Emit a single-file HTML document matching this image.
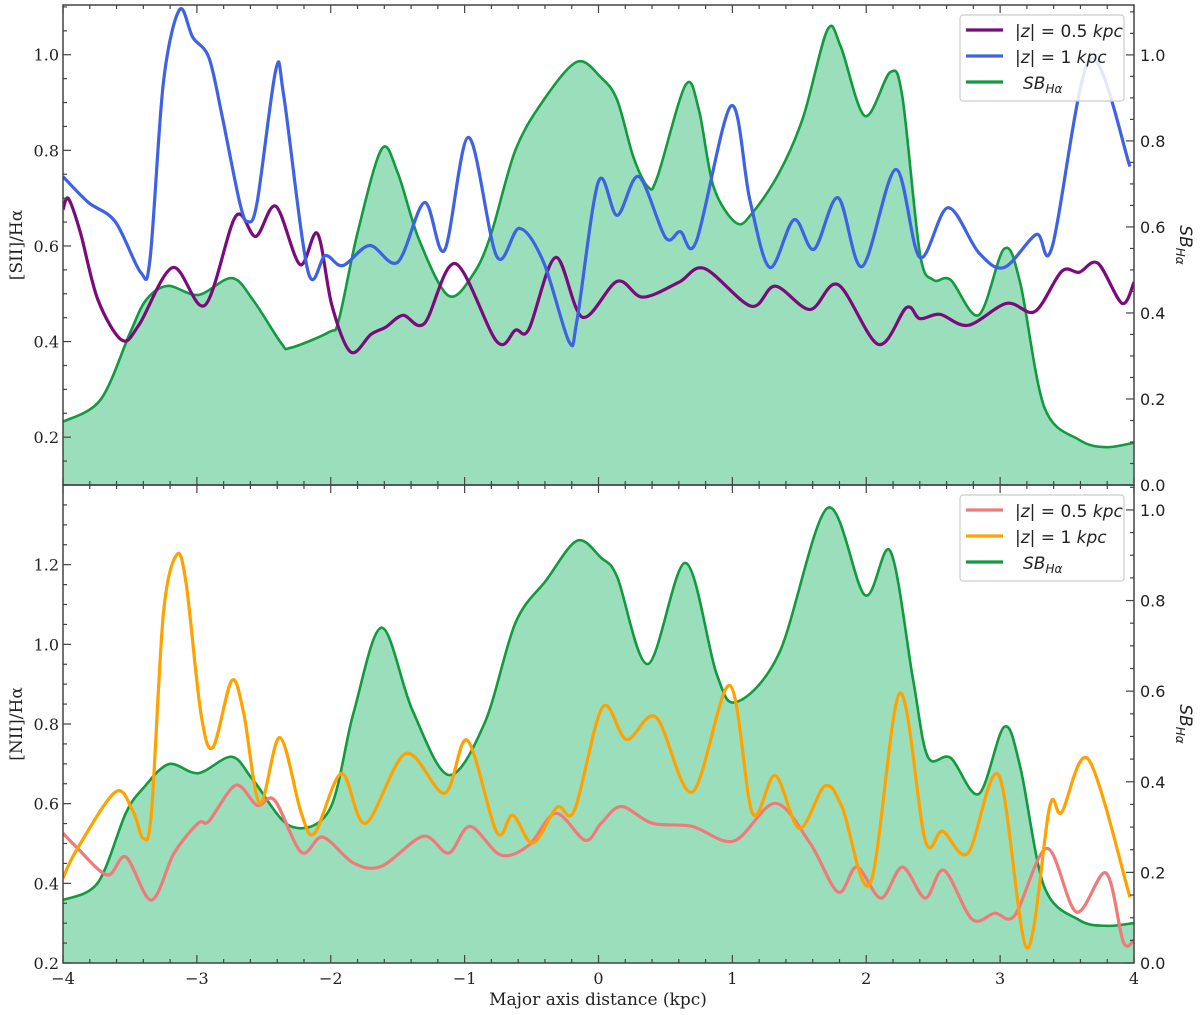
<!DOCTYPE html>
<html><head><meta charset="utf-8"><style>
body{margin:0;background:#fff;}
svg{display:block;}
.tl{font-family:"DejaVu Serif","Liberation Serif",serif;font-size:16px;fill:#222;}
.tr{font-family:"DejaVu Sans","Liberation Sans",sans-serif;font-size:16px;fill:#222;}
.lg{font-family:"DejaVu Sans","Liberation Sans",sans-serif;font-size:17px;fill:#222;}
</style></head><body>
<svg id="chart" width="1200" height="1015" viewBox="0 0 1200 1015" xmlns="http://www.w3.org/2000/svg"></svg>
<script>
// ---- data ----
const sbTopX=[-4,-3.72,-3.5,-3.38,-3.22,-2.99,-2.74,-2.58,-2.37,-2.3,-2.01,-1.94,-1.8,-1.62,-1.5,-1.34,-1.12,-0.93,-0.8,-0.62,-0.41,-0.16,0.02,0.14,0.26,0.37,0.44,0.65,0.75,0.86,1.03,1.15,1.35,1.53,1.71,1.81,1.99,2.18,2.27,2.4,2.5,2.63,2.84,3.03,3.15,3.33,3.59,3.79,4.0];
const sbTopV=[0.147,0.198,0.353,0.43,0.463,0.442,0.481,0.43,0.33,0.319,0.356,0.384,0.586,0.781,0.726,0.57,0.44,0.493,0.586,0.779,0.895,0.984,0.947,0.895,0.763,0.693,0.716,0.93,0.872,0.693,0.609,0.633,0.726,0.856,1.058,1.019,0.858,0.96,0.902,0.54,0.477,0.477,0.395,0.549,0.47,0.181,0.105,0.088,0.098];
const blueX=[-4,-3.81,-3.61,-3.42,-3.35,-3.25,-3.13,-3.03,-2.91,-2.81,-2.68,-2.62,-2.55,-2.41,-2.35,-2.17,-2.04,-1.91,-1.71,-1.5,-1.3,-1.15,-0.97,-0.76,-0.59,-0.41,-0.22,-0.16,0,0.14,0.3,0.5,0.61,0.73,0.99,1.13,1.28,1.46,1.61,1.79,1.97,2.22,2.4,2.61,2.84,3.03,3.27,3.39,3.67,3.97];
const blueV=[0.745,0.691,0.651,0.545,0.572,0.942,1.094,1.036,0.994,0.87,0.691,0.651,0.691,0.969,0.912,0.547,0.58,0.559,0.601,0.566,0.691,0.591,0.827,0.578,0.637,0.566,0.4,0.446,0.735,0.664,0.745,0.618,0.63,0.609,0.893,0.697,0.555,0.655,0.593,0.701,0.557,0.76,0.576,0.68,0.586,0.555,0.624,0.599,0.99,0.766];
const purpleX=[-4,-3.96,-3.87,-3.74,-3.56,-3.43,-3.18,-2.94,-2.71,-2.56,-2.41,-2.23,-2.1,-1.99,-1.85,-1.7,-1.59,-1.46,-1.3,-1.07,-0.76,-0.62,-0.52,-0.32,-0.12,0.14,0.33,0.6,0.79,1.14,1.32,1.58,1.79,2.09,2.3,2.4,2.55,2.76,3.05,3.26,3.46,3.59,3.73,3.91,4.0];
const purpleV=[0.676,0.699,0.628,0.488,0.403,0.436,0.555,0.476,0.662,0.62,0.683,0.561,0.626,0.474,0.378,0.415,0.43,0.455,0.438,0.563,0.4,0.424,0.426,0.576,0.451,0.526,0.493,0.524,0.553,0.474,0.516,0.467,0.519,0.394,0.471,0.448,0.457,0.434,0.48,0.463,0.547,0.545,0.564,0.48,0.524];
const sbBotX=[-4,-3.74,-3.53,-3.4,-3.21,-2.99,-2.74,-2.58,-2.3,-2.01,-1.83,-1.62,-1.39,-1.12,-0.85,-0.62,-0.39,-0.16,0.02,0.14,0.37,0.65,0.88,1.03,1.35,1.71,1.99,2.18,2.35,2.46,2.63,2.84,3.03,3.15,3.33,3.59,3.79,4.0];
const sbBotV=[0.139,0.177,0.331,0.386,0.439,0.419,0.455,0.404,0.302,0.338,0.552,0.74,0.558,0.415,0.53,0.751,0.845,0.932,0.894,0.852,0.66,0.883,0.64,0.576,0.684,1.004,0.812,0.909,0.625,0.455,0.453,0.373,0.521,0.433,0.168,0.095,0.082,0.088];
const orangeX=[-4,-3.9,-3.61,-3.48,-3.4,-3.34,-3.25,-3.15,-3.08,-2.97,-2.88,-2.74,-2.65,-2.53,-2.38,-2.22,-2.12,-1.92,-1.74,-1.44,-1.15,-0.98,-0.76,-0.64,-0.49,-0.31,-0.18,0.03,0.21,0.43,0.7,0.98,1.15,1.32,1.5,1.69,1.82,2.03,2.25,2.44,2.57,2.76,2.99,3.2,3.37,3.46,3.66,3.97];
const orangeV=[0.413,0.483,0.629,0.583,0.513,0.576,1.077,1.225,1.152,0.827,0.741,0.909,0.827,0.601,0.766,0.576,0.526,0.676,0.551,0.726,0.626,0.759,0.528,0.571,0.501,0.591,0.583,0.842,0.761,0.817,0.629,0.897,0.576,0.671,0.538,0.644,0.591,0.4,0.877,0.508,0.531,0.476,0.671,0.238,0.593,0.578,0.711,0.365];
const pinkX=[-4,-3.9,-3.67,-3.53,-3.34,-3.17,-2.99,-2.91,-2.71,-2.55,-2.42,-2.22,-2.06,-1.83,-1.62,-1.31,-1.12,-0.96,-0.73,-0.52,-0.32,-0.1,0.02,0.17,0.4,0.7,1.01,1.32,1.58,1.79,1.93,2.11,2.27,2.44,2.58,2.79,2.96,3.11,3.35,3.57,3.79,3.92,4.0];
const pinkV=[0.526,0.491,0.421,0.466,0.358,0.476,0.551,0.556,0.646,0.596,0.609,0.478,0.516,0.451,0.443,0.518,0.476,0.543,0.471,0.496,0.576,0.508,0.551,0.593,0.551,0.543,0.506,0.601,0.501,0.378,0.441,0.363,0.441,0.363,0.433,0.31,0.325,0.32,0.488,0.328,0.426,0.253,0.258];
const xTicks=[-4,-3,-2,-1,0,1,2,3,4];
const topLeftTicks=[0.2,0.4,0.6,0.8,1.0];
const botLeftTicks=[0.2,0.4,0.6,0.8,1.0,1.2];
const rightTicks=[0.0,0.2,0.4,0.6,0.8,1.0];

// ---- layout ----
const NS="http://www.w3.org/2000/svg";
const svg=document.getElementById('chart');
const X0=63,X1=1134;
const xs=v=>X0+(v+4)/8*(X1-X0);
const P1={top:5,bot:485,lmin:0.1,lmax:1.104,rmax:1.116};
const P2={top:485,bot:963,lmin:0.2,lmax:1.4,rmax:1.055};
function ly(p,v){return p.bot-(v-p.lmin)/(p.lmax-p.lmin)*(p.bot-p.top);}
function ry(p,v){return p.bot-v/p.rmax*(p.bot-p.top);}
function el(tag,attrs,parent){const e=document.createElementNS(NS,tag);for(const k in attrs)e.setAttribute(k,attrs[k]);(parent||svg).appendChild(e);return e;}
function pathD(xa,ya){
  const pts=xa.map((x,i)=>[xs(x),ya[i]]);
  let d='M'+pts[0][0].toFixed(1)+','+pts[0][1].toFixed(1);
  for(let i=0;i<pts.length-1;i++){
    const p0=pts[Math.max(0,i-1)],p1=pts[i],p2=pts[i+1],p3=pts[Math.min(pts.length-1,i+2)];
    const t=0.16;
    const c1=[p1[0]+(p2[0]-p0[0])*t,p1[1]+(p2[1]-p0[1])*t];
    const c2=[p2[0]-(p3[0]-p1[0])*t,p2[1]-(p3[1]-p1[1])*t];
    d+='C'+c1[0].toFixed(1)+','+c1[1].toFixed(1)+' '+c2[0].toFixed(1)+','+c2[1].toFixed(1)+' '+p2[0].toFixed(1)+','+p2[1].toFixed(1);
  }
  return d;
}
function panel(p,name,sbX,sbV,series,leftTicks,ylabel,legend){
  const g=el('g',{});
  
  
  const clip=el('clipPath',{id:'clip-'+name},g);
  el('rect',{x:X0,y:p.top,width:X1-X0,height:p.bot-p.top},clip);
  const cg=el('g',{'clip-path':'url(#clip-'+name+')'},g);
  const sy=sbV.map(v=>ry(p,v));
  const d=pathD(sbX,sy);
  const area=el('path',{d:d+'L'+xs(4)+','+p.bot+'L'+xs(-4)+','+p.bot+'Z',fill:'#9bdebc',stroke:'none'},cg);
  
  
  const sl=el('path',{d:d,fill:'none',stroke:'#129a3e','stroke-width':2.6},cg);
  
  
  series.forEach(s=>{
    const l=el('path',{d:pathD(s.x,s.v.map(v=>ly(p,v))),fill:'none',stroke:s.c,'stroke-width':3.2,'stroke-linejoin':'round'},cg);
    
    
  });
  // frame
  el('rect',{x:X0,y:p.top,width:X1-X0,height:p.bot-p.top,fill:'none',stroke:'#444','stroke-width':1.5},g);
  // x ticks
  for(let v=-4;v<=4.001;v+=0.2){
    const major=Math.abs(v-Math.round(v))<1e-6;const L=major?8:4;const x=xs(v);
    el('line',{x1:x,x2:x,y1:p.bot,y2:p.bot-L,stroke:'#444','stroke-width':1.2},g);
    el('line',{x1:x,x2:x,y1:p.top,y2:p.top+L,stroke:'#444','stroke-width':1.2},g);
  }
  // left ticks
  for(let v=Math.ceil(p.lmin*20)/20;v<=p.lmax;v+=0.05){
    const major=Math.abs(v*5-Math.round(v*5))<1e-6;const y=ly(p,v);
    el('line',{x1:X0,x2:X0+(major?8:4),y1:y,y2:y,stroke:'#444','stroke-width':1.2},g);
  }
  for(let v=0;v<=p.rmax;v+=0.05){
    const major=Math.abs(v*5-Math.round(v*5))<1e-6;const y=ry(p,v);
    el('line',{x1:X1,x2:X1-(major?8:4),y1:y,y2:y,stroke:'#444','stroke-width':1.2},g);
  }
  leftTicks.forEach(v=>{
    const t=el('text',{x:X0-4,y:ly(p,v)+6,'text-anchor':'end',class:'tl'},g);t.textContent=v.toFixed(1);
    
    
  });
  rightTicks.forEach(v=>{
    const t=el('text',{x:X1+6,y:ry(p,v)+6,class:'tr'},g);t.textContent=v.toFixed(1);
    
    
  });
  const cy=(p.top+p.bot)/2;
  const yl=el('text',{x:0,y:0,transform:'translate(22,'+cy+') rotate(-90)','text-anchor':'middle',class:'tl',style:'font-size:17px'},g);
  yl.textContent=ylabel;
  
  
  const yr=el('text',{x:0,y:0,transform:'translate(1180,'+cy+') rotate(90)','text-anchor':'middle',class:'tr',style:'font-size:17px;font-style:italic'},g);
  yr.innerHTML='SB<tspan font-size="12" dy="4">Hα</tspan>';
  
  
  // legend
  const lg=el('g',{},g);
  
  
  el('rect',{x:960,y:p.top+10,width:164,height:86,rx:3,fill:'#fff','fill-opacity':0.85,stroke:'#ccc','stroke-width':1.2},lg);
  legend.forEach((e,i)=>{
    const y=p.top+25+i*26;
    const ln=el('line',{x1:966,x2:1003,y1:y,y2:y,stroke:e.c,'stroke-width':3.2},lg);
    
    
    const t=el('text',{x:e.sb?1023:1015,y:y+7,class:'lg'},lg);
    t.innerHTML=e.h;
    
    
  });
}
const z05='|<tspan font-style="italic">z</tspan>| = 0.5 <tspan font-style="italic">kpc</tspan>';
const z1='|<tspan font-style="italic">z</tspan>| = 1 <tspan font-style="italic">kpc</tspan>';
const sbh='<tspan font-style="italic">SB</tspan><tspan font-style="italic" font-size="12" dy="4">Hα</tspan>';
panel(P1,'sii-panel',sbTopX,sbTopV,[{x:purpleX,v:purpleV,c:'#7b0b7d',n:'sii-z05-line'},{x:blueX,v:blueV,c:'#3e62e3',n:'sii-z1-line'}],topLeftTicks,'[SII]/Hα',
  [{c:'#7b0b7d',h:z05},{c:'#3e62e3',h:z1},{c:'#129a3e',h:sbh,sb:1}]);
panel(P2,'nii-panel',sbBotX,sbBotV,[{x:pinkX,v:pinkV,c:'#f07a7a',n:'nii-z05-line'},{x:orangeX,v:orangeV,c:'#ffa200',n:'nii-z1-line'}],botLeftTicks,'[NII]/Hα',
  [{c:'#f07a7a',h:z05},{c:'#ffa200',h:z1},{c:'#129a3e',h:sbh,sb:1}]);
xTicks.forEach(v=>{
  const t=el('text',{x:xs(v),y:984,'text-anchor':'middle',class:'tl'});
  t.textContent=(v<0?'\u2212':'')+Math.abs(v);
  
  
});
const xl=el('text',{x:598,y:1005,'text-anchor':'middle',class:'tl',style:'font-size:17px'});
xl.textContent='Major axis distance (kpc)';


</script>
</body></html>
